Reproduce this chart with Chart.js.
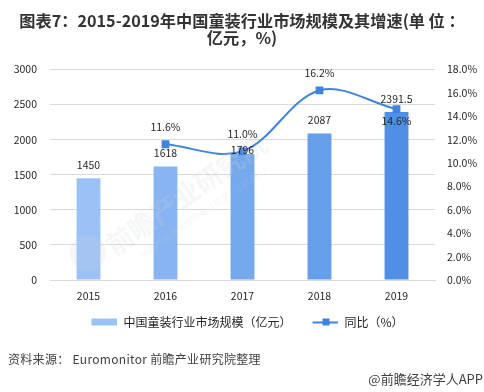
<!DOCTYPE html>
<html>
<head>
<meta charset="utf-8">
<script src="https://cdn.jsdelivr.net/npm/chart.js@4"></script>
<style>
  html, body { margin: 0; padding: 0; background: #fff; }
  #wrap { position: relative; width: 484px; height: 392px; overflow: hidden; font-family: "Noto Sans CJK SC", sans-serif; }
  #source { position: absolute; left: 8px; top: 351px; font-size: 12px; line-height: 16px; color: #404040; white-space: nowrap; letter-spacing: 0.3px; }
  #credit { position: absolute; right: 1px; top: 371px; font-size: 13px; line-height: 16px; color: #404040; white-space: nowrap; }
</style>
</head>
<body>
<div id="wrap">
  <canvas id="chart" width="484" height="392"></canvas>
  <div id="source">资料来源： Euromonitor 前瞻产业研究院整理</div>
  <div id="credit">@前瞻经济学人APP</div>
</div>
<script>
const years = ['2015', '2016', '2017', '2018', '2019'];
const marketSize = [1450, 1618, 1796, 2087, 2391.5];
const growth = [null, 11.6, 11.0, 16.2, 14.6];
const barColors = ['#9bc2f6', '#88b5f1', '#76a9ec', '#659fe9', '#4f90e4'];
const titleLines = ['图表7：2015-2019年中国童装行业市场规模及其增速(单 位 ：', '亿元，%)'];
const FONT = '"Noto Sans CJK SC", sans-serif';

// legend swatches, left 11px kept empty to widen the gap between items
function swatch(draw) {
  const c = document.createElement('canvas');
  c.width = 37; c.height = 9;
  const ctx = c.getContext('2d');
  ctx.translate(11, 0);
  draw(ctx);
  return c;
}
const barSwatch = swatch(ctx => { ctx.fillStyle = barColors[0]; ctx.fillRect(0, 1, 26, 7); });
const lineSwatch = swatch(ctx => {
  ctx.fillStyle = '#3f83e0';
  ctx.fillRect(0, 4, 26, 2);
  ctx.fillRect(10, 1, 7, 7);
});

const labelsPlugin = {
  id: 'labels',
  afterDatasetsDraw(chart) {
    const { ctx, scales } = chart;
    ctx.save();

    // watermark
    ctx.fillStyle = 'rgba(205,210,218,0.2)';
    ctx.beginPath();
    ctx.arc(88, 253, 18, 0, Math.PI * 2);
    ctx.fill();
    ctx.translate(186, 194);
    ctx.rotate(-35 * Math.PI / 180);
    ctx.textAlign = 'center';
    ctx.textBaseline = 'middle';
    ctx.font = 'bold 27px ' + FONT;
    ctx.fillText('前瞻产业研究院', 0, 0);
    ctx.font = '9px ' + FONT;
    ctx.fillText('中国产业咨询领导者（股票：839 981）', 6, 25);
    ctx.restore();

    ctx.save();
    ctx.font = '10.5px ' + FONT;
    ctx.fillStyle = '#262626';
    ctx.textAlign = 'center';
    ctx.textBaseline = 'middle';
    years.forEach((y, i) => {
      const x = scales.x.getPixelForValue(i);
      // the 2017 label is squeezed down onto its bar by the line
      const barOff = i === 2 ? -4 : -13;
      ctx.fillText(String(marketSize[i]), x, scales.y.getPixelForValue(marketSize[i]) + barOff);
      if (growth[i] !== null) {
        // last point's label sits below the line
        const off = i === 4 ? 12 : -17;
        ctx.fillText(growth[i].toFixed(1) + '%', x, scales.y1.getPixelForValue(growth[i]) + off);
      }
    });
    ctx.restore();
  }
};

new Chart(document.getElementById('chart'), {
  data: {
    labels: years,
    datasets: [
      {
        type: 'line',
        label: '同比（%）',
        data: growth,
        yAxisID: 'y1',
        order: 0,
        borderColor: '#3f83e0',
        backgroundColor: '#3f83e0',
        borderWidth: 2,
        tension: 0.35,
        pointStyle: 'rect',
        pointRadius: 5.5,
        pointHoverRadius: 5.5,
        pointBorderWidth: 0
      },
      {
        type: 'bar',
        label: '中国童装行业市场规模（亿元）',
        data: marketSize,
        yAxisID: 'y',
        order: 1,
        backgroundColor: barColors,
        categoryPercentage: 1,
        barPercentage: 0.31
      }
    ]
  },
  options: {
    responsive: false,
    animation: false,
    layout: { padding: { left: 0, right: 0, top: 0, bottom: 54 } },
    plugins: {
      tooltip: { enabled: false },
      title: {
        display: true,
        text: titleLines,
        color: '#333333',
        font: { family: FONT, size: 16.2, weight: 'bold', lineHeight: 1.03 },
        padding: { top: 13, bottom: 23 }
      },
      legend: {
        position: 'bottom',
        labels: {
          usePointStyle: true,
          pointStyleWidth: 37,
          color: '#333333',
          font: { family: FONT, size: 12 },
          padding: 10,
          generateLabels: () => [
            { text: '中国童装行业市场规模（亿元）', pointStyle: barSwatch, fontColor: '#262626', lineWidth: 0, strokeStyle: 'transparent', fillStyle: barColors[0], datasetIndex: 1 },
            { text: '同比（%）', pointStyle: lineSwatch, fontColor: '#262626', lineWidth: 0, strokeStyle: 'transparent', fillStyle: '#3f83e0', datasetIndex: 0 }
          ]
        }
      }
    },
    scales: {
      x: {
        afterFit: s => { s.height = 26; },
        grid: { display: false },
        border: { color: '#d9d9d9' },
        ticks: { color: '#262626', padding: 2, font: { family: FONT, size: 10.5 } }
      },
      y: {
        min: 0, max: 3000,
        afterFit: s => { s.width = 50; },
        grid: { color: '#d9d9d9', drawTicks: false },
        border: { display: false },
        ticks: { stepSize: 500, color: '#262626', padding: 13, font: { family: FONT, size: 10.5 }, callback: v => String(v) }
      },
      y1: {
        position: 'right',
        min: 0, max: 18,
        afterFit: s => { s.width = 49; },
        grid: { display: false, drawTicks: false },
        border: { display: false },
        ticks: { stepSize: 2, color: '#262626', padding: 12, font: { family: FONT, size: 10.5 }, callback: v => v.toFixed(1) + '%' }
      }
    }
  },
  plugins: [labelsPlugin]
});
</script>
</body>
</html>
